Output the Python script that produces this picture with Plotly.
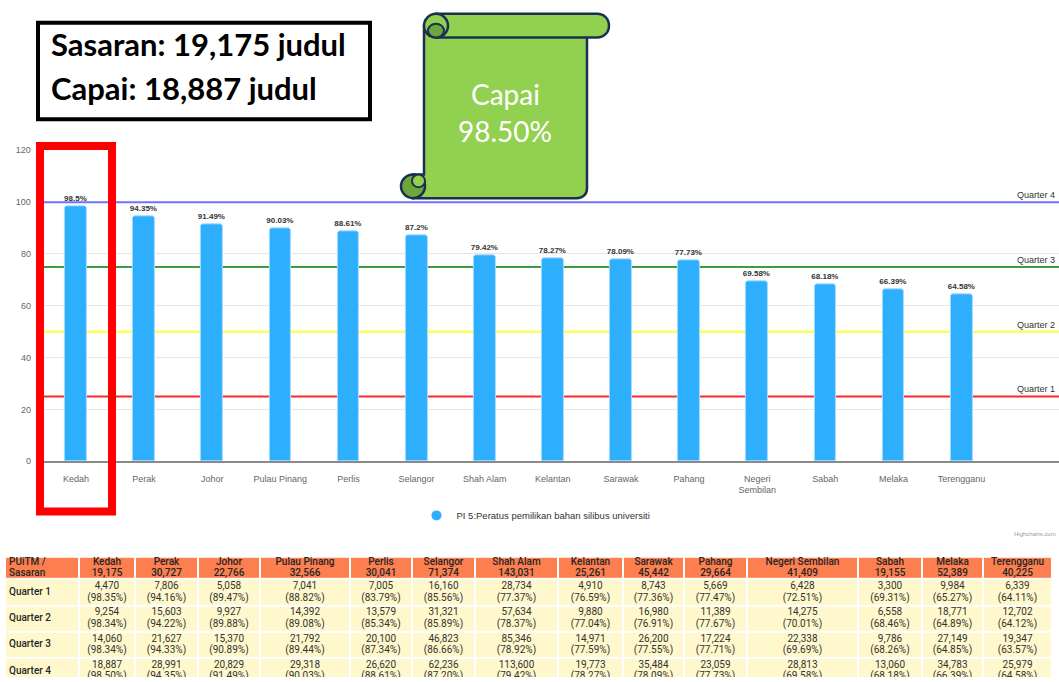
import plotly.graph_objects as go

W, H = 1059, 682

# ---------------- data ----------------
categories = ["Kedah", "Perak", "Johor", "Pulau Pinang", "Perlis", "Selangor", "Shah Alam",
              "Kelantan", "Sarawak", "Pahang", "Negeri Sembilan", "Sabah", "Melaka", "Terengganu"]
tick_labels = ["Kedah", "Perak", "Johor", "Pulau Pinang", "Perlis", "Selangor", "Shah Alam",
               "Kelantan", "Sarawak", "Pahang", "Negeri<br>Sembilan", "Sabah", "Melaka", "Terengganu"]
pct = [98.5, 94.35, 91.49, 90.03, 88.61, 87.2, 79.42, 78.27, 78.09, 77.73, 69.58, 68.18, 66.39, 64.58]

sasaran = [19175, 30727, 22766, 32566, 30041, 71374, 143031, 25261, 45442, 29664, 41409, 19155, 52389, 40225]
q1 = [4470, 7806, 5058, 7041, 7005, 16160, 28734, 4910, 8743, 5669, 6428, 3300, 9984, 6339]
q1p = [98.35, 94.16, 89.47, 88.82, 83.79, 85.56, 77.37, 76.59, 77.36, 77.47, 72.51, 69.31, 65.27, 64.11]
q2 = [9254, 15603, 9927, 14392, 13579, 31321, 57634, 9880, 16980, 11389, 14275, 6558, 18771, 12702]
q2p = [98.34, 94.22, 89.88, 89.08, 85.34, 85.89, 78.37, 77.04, 76.91, 77.67, 70.01, 68.46, 64.89, 64.12]
q3 = [14060, 21627, 15370, 21792, 20100, 46823, 85346, 14971, 26200, 17224, 22338, 9786, 27149, 19347]
q3p = [98.34, 94.33, 90.89, 89.44, 87.34, 86.66, 78.92, 77.59, 77.55, 77.71, 69.69, 68.26, 64.85, 63.57]
q4 = [18887, 28991, 20829, 29318, 26620, 62236, 113600, 19773, 35484, 23059, 28813, 13060, 34783, 25979]
q4p = [98.50, 94.35, 91.49, 90.03, 88.61, 87.20, 79.42, 78.27, 78.09, 77.73, 69.58, 68.18, 66.39, 64.58]

quarter_names = ["Quarter 1", "Quarter 2", "Quarter 3", "Quarter 4"]
quarter_levels = [25, 50, 75, 100]
quarter_colors = ["#ff2626", "#ffff33", "#3d9c3d", "#7070ff"]

legend_name = "PI 5:Peratus pemilikan bahan silibus universiti"

# ---------------- helpers (layout only) ----------------
def px(x):
    return x / W

def py(y):
    return 1 - y / H

def P(x, y):
    return f"{px(x):.5f},{py(y):.5f}"

BAR = "#2eaffd"
CHART_FONT = "Liberation Sans"

fig = go.Figure()

# ---------------- bar chart ----------------
fig.add_trace(go.Bar(
    x=categories, y=pct, width=0.318,
    marker=dict(color=BAR, line=dict(color="#a6dbff", width=1), cornerradius=3),
    text=[f"{v:g}%" for v in pct], textposition="outside", textangle=0, constraintext="none",
    textfont=dict(size=8, color="#333333", family=CHART_FONT, weight="bold"),
    cliponaxis=False, showlegend=False, hoverinfo="skip",
))
fig.add_trace(go.Scatter(
    x=[None], y=[None], mode="markers", name=legend_name,
    marker=dict(size=10, color=BAR, symbol="circle"), hoverinfo="skip",
))

shapes = []
annotations = []
for name, lvl, col in zip(quarter_names, quarter_levels, quarter_colors):
    shapes.append(dict(type="line", xref="paper", x0=px(41.9), x1=1, yref="y", y0=lvl, y1=lvl,
                       line=dict(color=col, width=2), layer="above" if lvl >= 100 else "below"))
    annotations.append(dict(text=name, xref="paper", x=px(1057), xanchor="right",
                            yref="y", y=lvl, yanchor="bottom", yshift=0, showarrow=False,
                            font=dict(size=9, color="#333333", family=CHART_FONT)))

# ---------------- table (heatmap cells + text) ----------------
col_widths = [74, 56, 63, 62, 90, 62, 63, 83, 65, 61, 63, 111, 64, 61, 69]
row_heights = [22.7, 26.7, 26.7, 26.7, 26.7]
xe = [5]
for w in col_widths:
    xe.append(xe[-1] + w)
ye = [0]
for h in row_heights:
    ye.append(ye[-1] + h)

ncol = len(col_widths)
z = [[0] * ncol] + [[1] * ncol for _ in range(4)]
fig.add_trace(go.Heatmap(
    x=xe, y=ye, z=z, zmin=0, zmax=1, colorscale=[[0, "#fd7f4f"], [1, "#fef8cc"]],
    showscale=False, xgap=2, ygap=2, hoverinfo="skip", xaxis="x2", yaxis="y2",
))

centers_x = [(xe[i] + xe[i + 1]) / 2 for i in range(ncol)]
centers_y = [(ye[i] + ye[i + 1]) / 2 for i in range(len(row_heights))]

q_vals = [q1, q2, q3, q4]
q_pcts = [q1p, q2p, q3p, q4p]

hx, hy, ht = [], [], []
for j, cat in enumerate(categories):
    cx = centers_x[j + 1]
    hx += [cx, cx]
    hy += [centers_y[0] - 5.6, centers_y[0] + 5.6]
    ht += [cat, f"{sasaran[j]:,}"]
fig.add_trace(go.Scatter(x=hx, y=hy, text=ht, mode="text", textposition="middle center",
                         textfont=dict(family="Roboto", size=10, color="#262626", weight=500),
                         xaxis="x2", yaxis="y2", hoverinfo="skip", showlegend=False))

bx, by, bt = [], [], []
for r in range(4):
    for j in range(len(categories)):
        cx = centers_x[j + 1]
        bx += [cx, cx]
        by += [centers_y[r + 1] - 5.8, centers_y[r + 1] + 5.8]
        bt += [f"{q_vals[r][j]:,}", f"({q_pcts[r][j]:.2f}%)"]
fig.add_trace(go.Scatter(x=bx, y=by, text=bt, mode="text", textposition="middle center",
                         textfont=dict(family="Roboto", size=10, color="#333333"),
                         xaxis="x2", yaxis="y2", hoverinfo="skip", showlegend=False))

fx = [xe[0] + 4] * 6
fy = [centers_y[0] - 5.6, centers_y[0] + 5.6] + centers_y[1:]
ft = ["PUiTM /", "Sasaran"] + quarter_names
fig.add_trace(go.Scatter(x=fx, y=fy, text=ft, mode="text", textposition="middle right",
                         textfont=dict(family="Roboto", size=10, color="#262626", weight=500),
                         xaxis="x2", yaxis="y2", hoverinfo="skip", showlegend=False))

# ---------------- decorations ----------------
GREEN = "#92d050"
DGREEN = "#6fa63c"
NAVY = "#1c2f52"

shapes.append(dict(type="path", xref="paper", yref="paper", layer="above",
                   path=f"M{P(424,21)} L{P(587,21)} L{P(587,186)} C{P(587,192)} {P(583,196)} {P(577,196)} "
                        f"L{P(413,196)} L{P(413,172)} L{P(424,172)} Z",
                   fillcolor=GREEN, line=dict(color=NAVY, width=2.5)))
shapes.append(dict(type="path", xref="paper", yref="paper", layer="above",
                   path=f"M{P(436,9)} L{P(597,9)} C{P(604,9)} {P(609,14)} {P(609,21)} "
                        f"C{P(609,28)} {P(604,33)} {P(597,33)} L{P(436,33)} Z",
                   fillcolor=GREEN, line=dict(color=NAVY, width=2.5)))
shapes.append(dict(type="circle", xref="paper", yref="paper", layer="above",
                   x0=px(424), x1=px(448), y0=py(9), y1=py(33),
                   fillcolor=GREEN, line=dict(color=NAVY, width=2.5)))
shapes.append(dict(type="circle", xref="paper", yref="paper", layer="above",
                   x0=px(428), x1=px(444), y0=py(19), y1=py(33),
                   fillcolor=DGREEN, line=dict(color=NAVY, width=2)))
shapes.append(dict(type="circle", xref="paper", yref="paper", layer="above",
                   x0=px(401), x1=px(425), y0=py(172), y1=py(196),
                   fillcolor=DGREEN, line=dict(color=NAVY, width=2.5)))
shapes.append(dict(type="circle", xref="paper", yref="paper", layer="above",
                   x0=px(412), x1=px(425), y0=py(172), y1=py(185),
                   fillcolor=GREEN, line=dict(color=NAVY, width=2)))

annotations.append(dict(text="Capai", xref="paper", yref="paper", x=px(505), y=py(90),
                        xanchor="center", yanchor="middle", showarrow=False,
                        font=dict(family="Lato", size=28, color="white")))
annotations.append(dict(text=f"{q4p[0]:.2f}%", xref="paper", yref="paper", x=px(505), y=py(128),
                        xanchor="center", yanchor="middle", showarrow=False,
                        font=dict(family="Lato", size=28, color="white")))

shapes.append(dict(type="rect", xref="paper", yref="paper", layer="above",
                   x0=px(38), x1=px(370), y0=py(18), y1=py(116),
                   fillcolor="white", line=dict(color="black", width=4)))
annotations.append(dict(text=f"<b>Sasaran: {sasaran[0]:,} judul</b>", xref="paper", yref="paper",
                        x=px(49), y=py(40), xanchor="left", yanchor="middle", showarrow=False,
                        font=dict(family="Lato", size=31, color="black")))
annotations.append(dict(text=f"<b>Capai: {q4[0]:,} judul</b>", xref="paper", yref="paper",
                        x=px(49), y=py(84), xanchor="left", yanchor="middle", showarrow=False,
                        font=dict(family="Lato", size=31, color="black")))

shapes.append(dict(type="rect", xref="paper", yref="paper", layer="above",
                   x0=px(40), x1=px(112), y0=py(143), y1=py(514),
                   line=dict(color="#ff0000", width=8)))

annotations.append(dict(text="Highcharts.com", xref="paper", yref="paper", x=px(1058), y=py(537),
                        xanchor="right", yanchor="middle", showarrow=False,
                        font=dict(family=CHART_FONT, size=6, color="#999999")))

fig.update_layout(
    width=W, height=H, margin=dict(l=0, r=0, t=0, b=0),
    paper_bgcolor="white", plot_bgcolor="white",
    font=dict(family=CHART_FONT),
    bargap=0,
    xaxis=dict(domain=[px(41.9), 1], range=[-0.5, 14.43], type="category",
               tickvals=categories, ticktext=tick_labels,
               showline=True, linecolor="#8a8a8a", linewidth=1.5, ticks="",
               tickfont=dict(size=9, color="#666666"), ticklabelstandoff=8,
               showgrid=False, zeroline=False, fixedrange=True),
    yaxis=dict(domain=[py(463), py(147.5)], range=[0, 120], dtick=20,
               showgrid=True, gridcolor="#e6e6e6", gridwidth=1, zeroline=False,
               showline=False, ticks="", tickfont=dict(size=9, color="#666666"),
               ticklabelstandoff=10, fixedrange=True),
    xaxis2=dict(domain=[0, 1], range=[0, W], visible=False, anchor="y2", fixedrange=True),
    yaxis2=dict(domain=[0, py(560)], range=[122, 0], visible=False, anchor="x2", fixedrange=True),
    legend=dict(orientation="h", x=px(536), xanchor="center", y=py(518), yanchor="middle",
                font=dict(size=9.5, color="#333333", family=CHART_FONT), bgcolor="rgba(0,0,0,0)"),
    shapes=shapes, annotations=annotations,
)

fig.write_html("out.html", config={"displayModeBar": False},
               post_script="document.body.style.margin='0px';document.body.style.overflow='hidden';")
